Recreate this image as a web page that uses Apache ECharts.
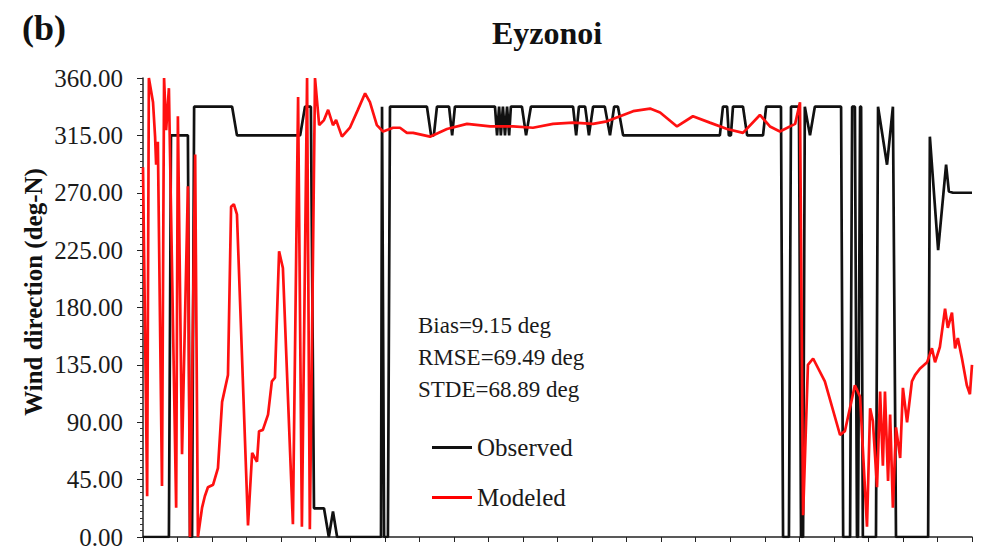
<!DOCTYPE html>
<html>
<head>
<meta charset="utf-8">
<script src="https://cdn.jsdelivr.net/npm/echarts@6/dist/echarts.min.js"></script>
<style>
html,body{margin:0;padding:0;background:#fff;}
#chart{width:983px;height:550px;}
</style>
</head>
<body>
<div id="chart"></div>
<script>
// ---- Data (x in sample units 0..240, y in deg-N) ----
const obsX = [0,7.5,8.1,13.0,13.6,14.2,14.8,25.8,27.2,45.5,46.9,48.6,49.5,52.4,53.8,55.0,56.2,68.9,69.2,69.8,70.9,71.5,82.2,83.4,84.2,85.1,88.6,89.5,90.3,101.9,102.5,103.1,103.6,104.2,104.8,105.4,106.0,106.5,109.7,110.9,112.3,124.5,125.4,126.2,128.0,129.1,130.3,133.7,135.2,136.4,137.5,139.0,167.0,167.9,169.1,169.6,170.2,170.8,173.7,174.9,179.5,180.4,184.7,185.3,187.0,187.6,189.9,190.5,191.1,191.6,193.1,194.5,202.1,202.7,204.7,205.3,206.1,206.7,207.0,207.6,207.9,208.4,212.2,212.8,215.4,217.1,218.0,227.3,227.8,230.2,232.5,233.3,234.5,240.0];
const obsY = [0,0,315,315,0,0,337.5,337.5,315,315,337.5,337.5,22.5,22.5,0,20,0,0,337.5,0,0,337.5,337.5,315,315,337.5,337.5,315,337.5,337.5,315,337.5,315,337.5,315,337.5,315,337.5,337.5,315,337.5,337.5,315,337.5,337.5,315,337.5,337.5,315,337.5,337.5,315,315,337.5,337.5,315,315,337.5,337.5,315,315,337.5,337.5,0,0,337.5,337.5,0,0,337.5,315,337.5,337.5,0,0,337.5,337.5,0,0,337.5,337.5,0,0,337.5,292,337.5,0,0,314,225,292,271,270,270];

const modX = [0,1.2,1.7,2.9,3.5,3.8,4.3,5.5,6.1,6.7,7.5,9.6,10.1,11.3,13.0,13.6,15.1,15.9,17.1,17.9,18.8,20.3,21.7,22.9,24.6,25.5,26.3,27.2,30.4,31.6,33.0,33.6,34.7,36.2,37.3,38.2,39.4,40.5,43.4,44.9,46.0,47.5,48.3,49.8,51.0,52.4,53.6,55.0,55.9,57.6,59.9,62.2,64.3,65.7,67.7,69.5,72.4,74.4,76.4,78.2,83.1,88.0,93.8,100.5,107.1,112.9,118.7,124.5,130.3,134.3,138.1,141.9,146.8,149.7,154.6,159.2,164.1,169.1,173.7,178.6,181.5,184.4,188.8,190.2,191.1,192.5,194.0,197.4,201.8,203.2,206.1,207.6,209.6,210.5,211.3,212.5,213.4,214.2,214.8,215.7,216.3,217.1,218.0,219.2,220.0,221.2,222.6,223.5,224.9,227.0,228.4,229.3,230.7,232.2,233.0,234.2,235.1,235.9,237.1,238.5,239.4,240.0];
const modY = [290,32,360,341,314,292,310,40,360,319,352,23,330,65,275,0,300,0,23,32,39,41,54,106,127,259,261,253,9,66,59,83,84,96,122,125,224,211,10,345,8,360,6,360,323,327,335,323,327,314,321,335,348,341,323,318,321,321,317,317,314,320,324,322,322,321,324,325,324,326,330,334,336,333,322,330,325,320,317,331,322,318,324,341,17,135,140,122,80,83,119,110,8,101,91,39,114,56,114,44,96,23,86,62,117,90,122,127,132,137,148,137,149,179,164,176,148,156,140,119,112,135];

const yTicks = [0,45,90,135,180,225,270,315,360];
const seriesNames = ['Observed','Modeled'];
const statLines = ['Bias=9.15 deg','RMSE=69.49 deg','STDE=68.89 deg'];
const titleText = 'Eyzonoi';
const panelLabel = '(b)';
const yName = 'Wind direction (deg-N)';

const pair = (xs, ys) => xs.map((x, i) => [x, ys[i]]);
const serif = '"Liberation Serif", "DejaVu Serif", serif';

const chart = echarts.init(document.getElementById('chart'), null, {renderer: 'svg'});
chart.setOption({
  animation: false,
  backgroundColor: '#ffffff',
  grid: {left: 143, right: 11, top: 78, bottom: 13, containLabel: false},
  title: {
    text: titleText, left: 542, top: 12, textAlign: 'center',
    textStyle: {fontFamily: serif, fontWeight: 'bold', fontSize: 32, color: '#111'}
  },
  graphic: [
    {type: 'text', left: 22, top: 10, style: {text: panelLabel, font: 'bold 36px ' + serif, fill: '#111'}},
    {type: 'text', x: 33, y: 292, rotation: Math.PI / 2,
     style: {text: yName, font: 'bold 25px ' + serif, fill: '#111', align: 'center', verticalAlign: 'middle'}},
    {type: 'text', left: 418, top: 309, style: {text: statLines.join('\n'), font: '23px ' + serif, lineHeight: 32, fill: '#1a1a1a'}}
  ],
  legend: {
    orient: 'vertical', left: 427, top: 430, itemGap: 25,
    itemWidth: 40, itemHeight: 3, icon: 'rect',
    data: seriesNames,
    textStyle: {fontFamily: serif, fontSize: 25, color: '#1a1a1a', lineHeight: 25}
  },
  xAxis: {
    type: 'value', min: 0, max: 240, interval: 10,
    axisLine: {show: true, onZero: false, lineStyle: {color: '#222', width: 1.5}},
    axisTick: {show: true, inside: false, length: 5, lineStyle: {color: '#222', width: 1}},
    axisLabel: {show: false},
    splitLine: {show: false}
  },
  yAxis: {
    type: 'value', min: yTicks[0], max: yTicks[yTicks.length - 1], interval: 45,
    axisLine: {show: true, lineStyle: {color: '#222', width: 1.5}},
    axisTick: {show: true, inside: false, length: 6, lineStyle: {color: '#222', width: 1}},
    minorTick: {show: true, splitNumber: 9, length: 3, lineStyle: {color: '#333', width: 1}},
    axisLabel: {margin: 20, fontFamily: serif, fontSize: 25, color: '#1a1a1a', formatter: v => v.toFixed(2)},
    splitLine: {show: false}
  },
  series: [
    {name: seriesNames[0], type: 'line', data: pair(obsX, obsY), showSymbol: false, symbol: 'none',
     color: '#111', lineStyle: {color: '#111', width: 2.7}, z: 2},
    {name: seriesNames[1], type: 'line', data: pair(modX, modY), showSymbol: false, symbol: 'none',
     color: '#ff0000', lineStyle: {color: '#ff1010', width: 2.7}, z: 3}
  ]
});
</script>
</body>
</html>
